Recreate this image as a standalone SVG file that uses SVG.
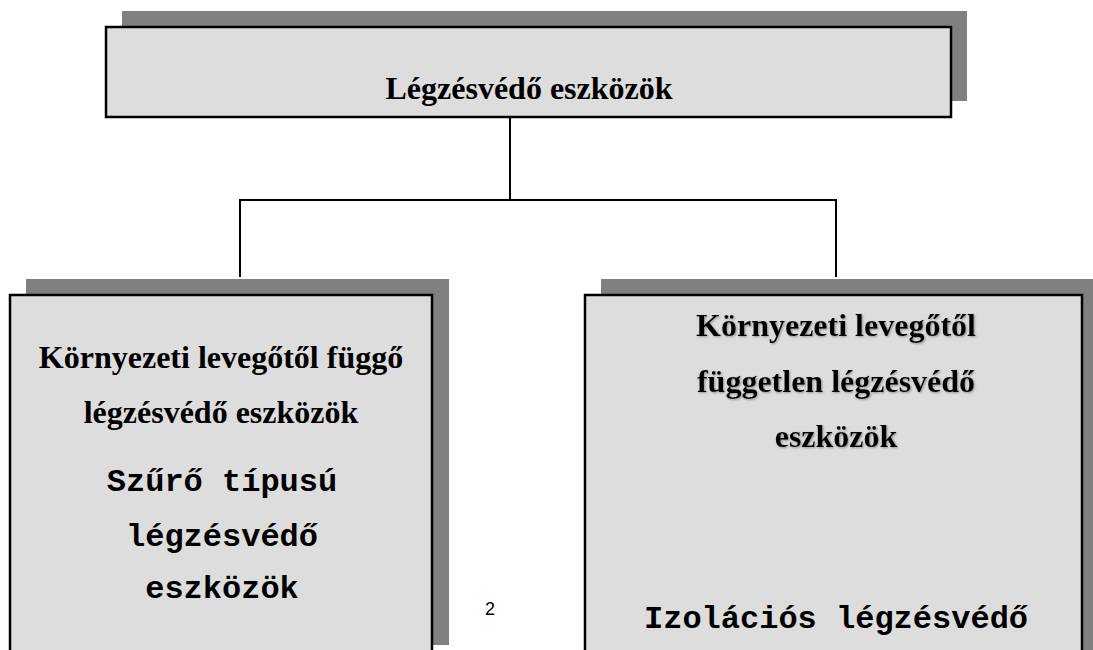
<svg xmlns="http://www.w3.org/2000/svg" width="1093" height="650" viewBox="0 0 1093 650">
  <style>
    .shadow { fill: #808080; }
    .box { fill: #dddddd; stroke: #000000; stroke-width: 2.5; }
    .serif { font-family: "Liberation Serif", "Times New Roman", serif; font-weight: bold; font-size: 32px; fill: #000000; text-anchor: middle; }
    .mono { font-family: "Liberation Mono", "Courier New", monospace; font-weight: bold; font-size: 32px; fill: #000000; text-anchor: middle; }
    .conn { stroke: #000000; stroke-width: 2; fill: none; }
    .page { font-family: "Liberation Sans", Arial, sans-serif; font-size: 18px; fill: #000000; text-anchor: middle; }
  </style>
  <defs>
    <filter id="tshadow" x="-10%" y="-30%" width="120%" height="160%">
      <feDropShadow dx="1" dy="1" stdDeviation="1" flood-color="#808080" flood-opacity="0.8"/>
    </filter>
  </defs>
  <rect width="1093" height="650" fill="#ffffff"/>

  <g id="connectors">
    <line class="conn" x1="510" y1="117" x2="510" y2="200"/>
    <polyline class="conn" points="240,277 240,200 836,200 836,277"/>
  </g>

  <g id="node-root">
    <rect class="shadow" x="122" y="11" width="845" height="90"/>
    <rect class="box" x="106" y="27" width="845" height="90"/>
    <text class="serif" x="529" y="99">Légzésvédő eszközök</text>
  </g>

  <g id="node-left">
    <rect class="shadow" x="26" y="279" width="423" height="366"/>
    <rect class="box" x="10" y="295" width="422" height="370"/>
    <text class="serif" x="221" y="368">Környezeti levegőtől függő</text>
    <text class="serif" x="221" y="423">légzésvédő eszközök</text>
    <text class="mono" x="222" y="491">Szűrő típusú</text>
    <text class="mono" x="222" y="546">légzésvédő</text>
    <text class="mono" x="222" y="598">eszközök</text>
  </g>

  <g id="node-right">
    <rect class="shadow" x="601" y="279" width="500" height="380"/>
    <rect class="box" x="585" y="295" width="497" height="370"/>
    <g filter="url(#tshadow)">
      <text class="serif" x="836" y="336">Környezeti levegőtől</text>
      <text class="serif" x="836" y="392">független légzésvédő</text>
      <text class="serif" x="836" y="447">eszközök</text>
    </g>
    <text class="mono" x="836" y="628">Izolációs légzésvédő</text>
  </g>

  <text class="page" x="490" y="615">2</text>
</svg>
